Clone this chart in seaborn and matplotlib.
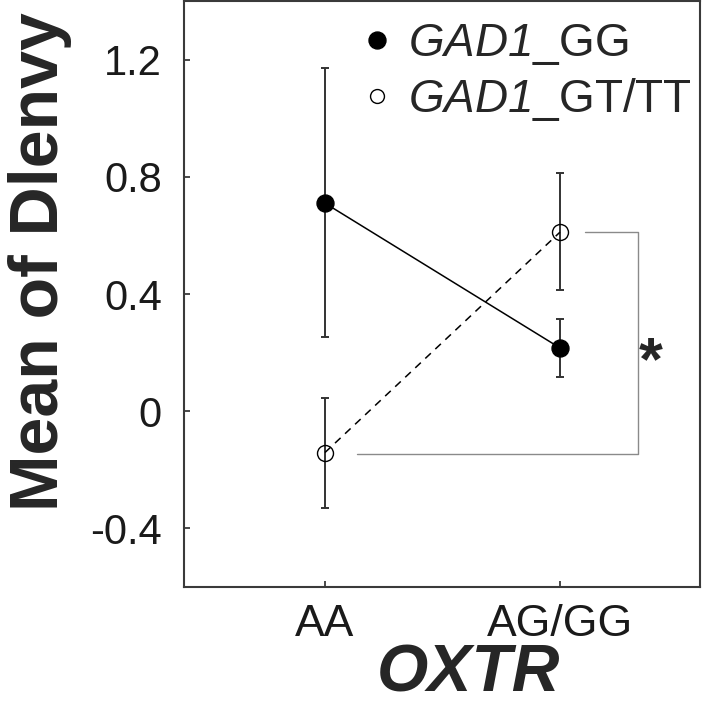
import numpy as np
import pandas as pd
import matplotlib
matplotlib.use("Agg")
import matplotlib.pyplot as plt
import seaborn as sns
from matplotlib.lines import Line2D

# Data
oxtr = ["AA", "AG/GG"]
gg_mean = [0.710, 0.216]
gg_low = [0.252, 0.118]
gg_high = [1.173, 0.315]
gt_mean = [-0.141, 0.611]
gt_low = [-0.329, 0.412]
gt_high = [0.045, 0.812]
y_ticks = [-0.4, 0, 0.4, 0.8, 1.2]
y_ticklabels = ["-0.4", "0", "0.4", "0.8", "1.2"]

sns.set_style("ticks")
plt.rcParams['font.family'] = ['Liberation Sans', 'DejaVu Sans']
plt.rcParams['mathtext.fontset'] = 'custom'
plt.rcParams['mathtext.rm'] = 'Liberation Sans:italic'
plt.rcParams['mathtext.it'] = 'Liberation Sans:italic'
plt.rcParams['mathtext.bf'] = 'Liberation Sans:bold'

df = pd.DataFrame({
    'oxtr': oxtr * 2,
    'group': ['GG'] * 2 + ['GT/TT'] * 2,
    'mean': gg_mean + gt_mean,
    'low': gg_low + gt_low,
    'high': gg_high + gt_high,
})
df['pos'] = df['oxtr'].map({k: i for i, k in enumerate(oxtr)})

fig = plt.figure(figsize=(7.02, 7.10), dpi=100)
ax = fig.add_axes([184 / 702, 1 - 587 / 710, 516 / 702, 586 / 710])

err_col = '#333333'
for grp, sub in df.groupby('group'):
    ax.errorbar(sub['pos'], sub['mean'],
                yerr=[sub['mean'] - sub['low'], sub['high'] - sub['mean']],
                fmt='none', ecolor=err_col, elinewidth=1.4, capsize=2.9, capthick=1.4, zorder=2)

# connecting lines
gg = df[df['group'] == 'GG']
gt = df[df['group'] == 'GT/TT']
sns.lineplot(data=gg, x='pos', y='mean', color='black', linewidth=1.1, ax=ax, zorder=3)
sns.lineplot(data=gt, x='pos', y='mean', color='black', linewidth=1.1, ax=ax, zorder=3)
ax.lines[-1].set_dashes([5, 4])

ax.plot(gg['pos'], gg['mean'], 'o', ms=12.2, mfc='black', mec='black', zorder=4)
ax.plot(gt['pos'], gt['mean'], 'o', ms=11.5, mfc='none', mec='black', mew=1.0, zorder=4)

# significance bracket
bx = [1.106, 1.332, 1.332, 0.136]
by = [gt_mean[1], gt_mean[1], gt_mean[0] - 0.006, gt_mean[0] - 0.006]
ax.plot(bx, by, color='#8a8a8a', linewidth=1.0, zorder=1)
ax.text(1.387, 0.108, '*', fontsize=44, fontweight='bold', ha='center', va='baseline')

ax.set_xlim(-0.6, 1.596)
ax.set_ylim(-0.6, 1.4)
ax.set_xticks(range(len(oxtr)))
ax.set_xticklabels(oxtr)
ax.set_yticks(y_ticks)
ax.set_yticklabels(y_ticklabels)
ax.tick_params(axis='both', direction='in', length=4.3, width=1.3, color='#3a3a3a',
               labelcolor='#1a1a1a')
ax.tick_params(axis='x', pad=12, labelsize=32)
ax.tick_params(axis='y', pad=16, labelsize=30)
for s in ax.spines.values():
    s.set_visible(True)
    s.set_color('#3a3a3a')
    s.set_linewidth(1.5)

ax.set_ylabel('Mean of Dlenvy', fontsize=49, fontweight='bold')
ax.yaxis.set_label_coords(-0.217, 0.556)
ax.set_xlabel('OXTR', fontsize=47.5, fontweight='bold', style='italic')
ax.xaxis.set_label_coords(0.551, -0.097)

handles = [
    Line2D([], [], marker='o', ls='none', ms=12.2, mfc='black', mec='black'),
    Line2D([], [], marker='o', ls='none', ms=10, mfc='none', mec='black', mew=1.0),
]
labels = [r'$GAD1$_GG', r'$GAD1$_GT/TT']
ax.legend(handles, labels, loc='upper left', bbox_to_anchor=(0.343, 0.964),
          frameon=False, fontsize=33, handlelength=0.7, handletextpad=0.33,
          labelspacing=0.2, borderpad=0, borderaxespad=0)

fig.savefig('out.png', dpi=100)
